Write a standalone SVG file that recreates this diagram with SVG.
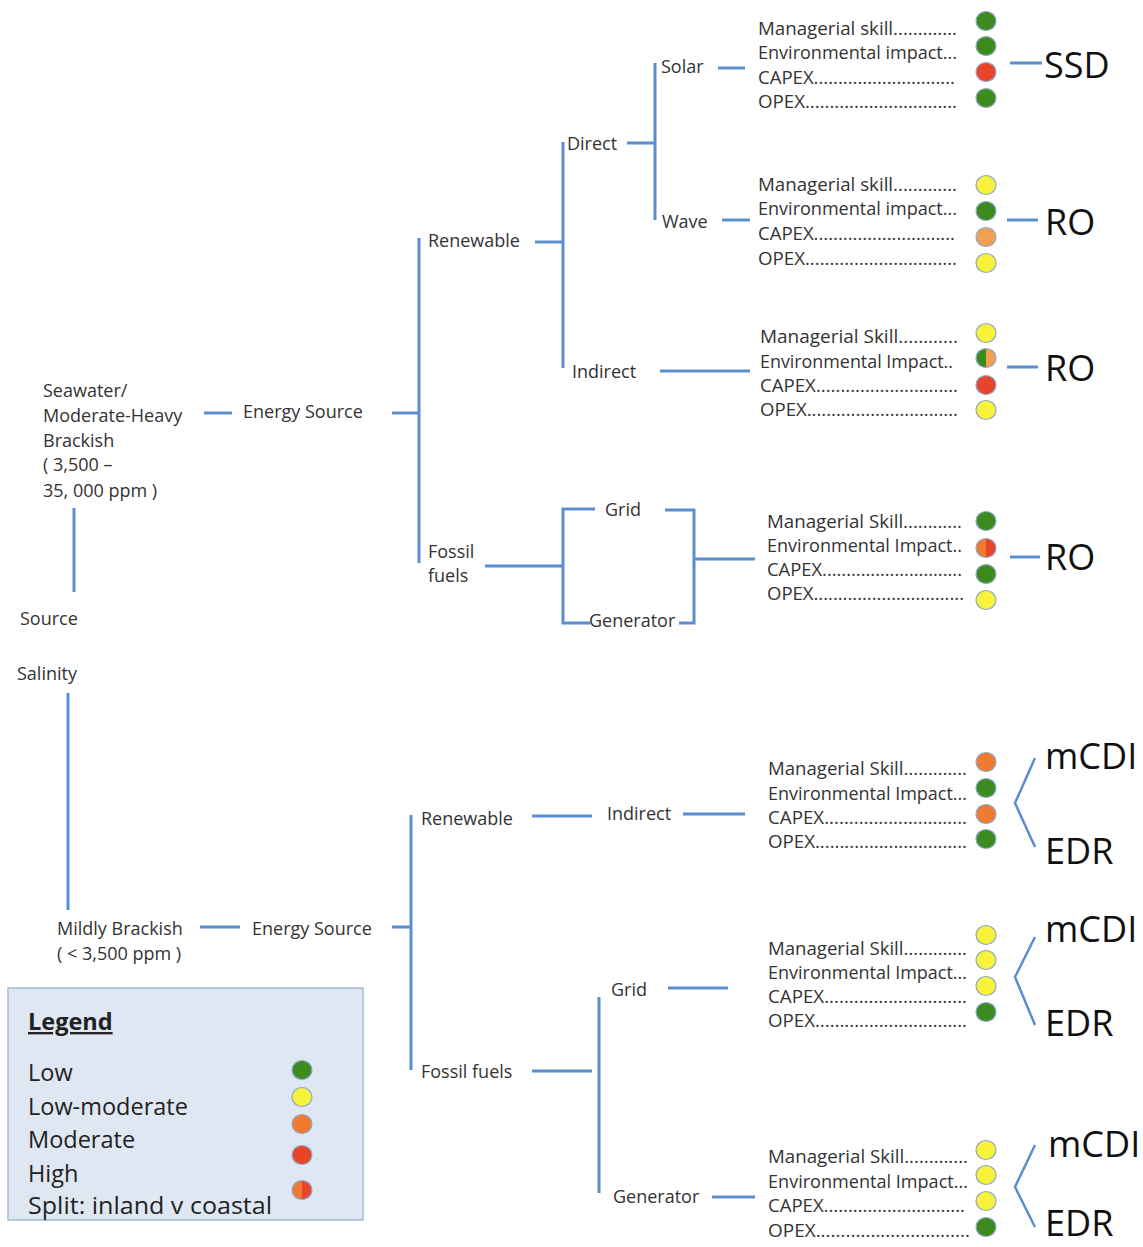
<svg xmlns="http://www.w3.org/2000/svg" width="1143" height="1247" viewBox="0 0 1143 1247">
<defs>
<style>
.t{font-family:"Open Sans","Noto Sans","Liberation Sans",sans-serif;font-size:18px;fill:#333}
.c{font-family:"Open Sans","Noto Sans","Liberation Sans",sans-serif;font-size:17.5px;fill:#333}
.big{font-family:"Open Sans","Noto Sans","Liberation Sans",sans-serif;font-size:36px;fill:#111}
.lg{font-family:"Open Sans","Noto Sans","Liberation Sans",sans-serif;font-size:23.5px;fill:#222}
.ln{stroke:#5b8ed0;stroke-width:3;fill:none}
.dot{stroke:#8ea9c9;stroke-width:1.2}
.G{fill:#3d8b1e}.Y{fill:#f8f23a}.O{fill:#f07a30}.LO{fill:#f0a050}.R{fill:#e8442a}
</style>
<g id="dg"><ellipse cx="0" cy="0" rx="10" ry="9.5" class="G dot"/></g>
<g id="dy"><ellipse cx="0" cy="0" rx="10" ry="9.5" class="Y dot"/></g>
<g id="do"><ellipse cx="0" cy="0" rx="10" ry="9.5" class="O dot"/></g>
<g id="dlo"><ellipse cx="0" cy="0" rx="10" ry="9.5" class="LO dot"/></g>
<g id="dr"><ellipse cx="0" cy="0" rx="10" ry="9.5" class="R dot"/></g>
<g id="dsgl"><path d="M0,-9.5 A10,9.5 0 0 0 0,9.5 Z" class="G"/><path d="M0,-9.5 A10,9.5 0 0 1 0,9.5 Z" class="LO"/><ellipse cx="0" cy="0" rx="10" ry="9.5" fill="none" class="dot"/></g>
<g id="dsor"><path d="M0,-9.5 A10,9.5 0 0 0 0,9.5 Z" class="O"/><path d="M0,-9.5 A10,9.5 0 0 1 0,9.5 Z" class="R"/><ellipse cx="0" cy="0" rx="10" ry="9.5" fill="none" class="dot"/></g>
</defs>
<rect width="1143" height="1247" fill="#fff"/>

<g id="connectors" class="ln">
<line x1="204" y1="413" x2="232" y2="413"/>
<line x1="392" y1="413" x2="419" y2="413"/>
<line x1="419" y1="238" x2="419" y2="563"/>
<line x1="535" y1="242" x2="563" y2="242"/>
<line x1="563" y1="142" x2="563" y2="368"/>
<line x1="627" y1="143" x2="655" y2="143"/>
<line x1="655" y1="63" x2="655" y2="220"/>
<line x1="718" y1="68" x2="745" y2="68"/>
<line x1="722" y1="220" x2="750" y2="220"/>
<line x1="660" y1="371" x2="750" y2="371"/>
<line x1="485" y1="566" x2="563" y2="566"/>
<polyline points="595,509 563,509 563,623 590,623"/>
<polyline points="665,510 694,510 694,623 679,623"/>
<line x1="694" y1="559" x2="755" y2="559"/>
<line x1="1010" y1="63" x2="1042" y2="63"/>
<line x1="1007" y1="220" x2="1038" y2="220"/>
<line x1="1007" y1="367" x2="1038" y2="367"/>
<line x1="1010" y1="557" x2="1040" y2="557"/>
<line x1="74" y1="508" x2="74" y2="592"/>
<line x1="68" y1="693" x2="68" y2="910"/>
<line x1="200" y1="927" x2="240" y2="927"/>
<line x1="392" y1="927" x2="411" y2="927"/>
<line x1="411" y1="815" x2="411" y2="1070"/>
<line x1="532" y1="816" x2="592" y2="816"/>
<line x1="683" y1="814" x2="745" y2="814"/>
<line x1="532" y1="1071" x2="592" y2="1071"/>
<line x1="599" y1="997" x2="599" y2="1193"/>
<line x1="668" y1="988" x2="728" y2="988"/>
<line x1="712" y1="1197" x2="755" y2="1197"/>
<polyline points="1035,758 1015,803 1035,847" stroke-width="2.5"/>
<polyline points="1035,937 1015,977 1035,1025" stroke-width="2.5"/>
<polyline points="1035,1145 1015,1187 1035,1227" stroke-width="2.5"/>
</g>

<g id="n-source"><text class="t" x="20" y="625">Source</text></g>
<g id="n-salinity"><text class="t" x="17" y="680">Salinity</text></g>
<g id="n-seawater">
<text class="t" x="43" y="397">Seawater/</text>
<text class="t" x="43" y="422">Moderate-Heavy</text>
<text class="t" x="43" y="447">Brackish</text>
<text class="t" x="43" y="471">( 3,500 –</text>
<text class="t" x="43" y="497">35, 000 ppm )</text>
</g>
<g id="n-energy1"><text class="t" x="243" y="418">Energy Source</text></g>
<g id="n-renewable1"><text class="t" x="428" y="247">Renewable</text></g>
<g id="n-direct"><text class="t" x="567" y="150">Direct</text></g>
<g id="n-solar"><text class="t" x="661" y="73">Solar</text></g>
<g id="n-wave"><text class="t" x="662" y="228">Wave</text></g>
<g id="n-indirect1"><text class="t" x="572" y="378">Indirect</text></g>
<g id="n-fossil1"><text class="t" x="428" y="558">Fossil</text><text class="t" x="428" y="582">fuels</text></g>
<g id="n-grid1"><text class="t" x="605" y="516">Grid</text></g>
<g id="n-gen1"><text class="t" x="589" y="627">Generator</text></g>

<g id="n-mild">
<text class="t" x="57" y="935">Mildly Brackish</text>
<text class="t" x="57" y="960">( &lt; 3,500 ppm )</text>
</g>
<g id="n-energy2"><text class="t" x="252" y="935">Energy Source</text></g>
<g id="n-renewable2"><text class="t" x="421" y="825">Renewable</text></g>
<g id="n-indirect2"><text class="t" x="607" y="820">Indirect</text></g>
<g id="n-fossil2"><text class="t" x="421" y="1078">Fossil fuels</text></g>
<g id="n-grid2"><text class="t" x="611" y="996">Grid</text></g>
<g id="n-gen2"><text class="t" x="613" y="1203">Generator</text></g>

<g id="b1">
<text class="c" x="758" y="35" textLength="199" lengthAdjust="spacingAndGlyphs">Managerial skill.............</text>
<text class="c" x="758" y="59" textLength="199" lengthAdjust="spacingAndGlyphs">Environmental impact...</text>
<text class="c" x="758" y="84" textLength="197" lengthAdjust="spacingAndGlyphs">CAPEX.............................</text>
<text class="c" x="758" y="108" textLength="199" lengthAdjust="spacingAndGlyphs">OPEX...............................</text>
<use href="#dg" x="986" y="21"/><use href="#dg" x="986" y="46"/><use href="#dr" x="986" y="72"/><use href="#dg" x="986" y="98"/>
<text class="big" x="1044" y="78">SSD</text>
</g>
<g id="b2">
<text class="c" x="758" y="191" textLength="199" lengthAdjust="spacingAndGlyphs">Managerial skill.............</text>
<text class="c" x="758" y="215" textLength="199" lengthAdjust="spacingAndGlyphs">Environmental impact...</text>
<text class="c" x="758" y="240" textLength="197" lengthAdjust="spacingAndGlyphs">CAPEX.............................</text>
<text class="c" x="758" y="265" textLength="199" lengthAdjust="spacingAndGlyphs">OPEX...............................</text>
<use href="#dy" x="986" y="185"/><use href="#dg" x="986" y="211"/><use href="#dlo" x="986" y="237"/><use href="#dy" x="986" y="263"/>
<text class="big" x="1045" y="235">RO</text>
</g>
<g id="b3">
<text class="c" x="760" y="343" textLength="198" lengthAdjust="spacingAndGlyphs">Managerial Skill............</text>
<text class="c" x="760" y="368" textLength="193" lengthAdjust="spacingAndGlyphs">Environmental Impact..</text>
<text class="c" x="760" y="392" textLength="198" lengthAdjust="spacingAndGlyphs">CAPEX.............................</text>
<text class="c" x="760" y="416" textLength="198" lengthAdjust="spacingAndGlyphs">OPEX...............................</text>
<use href="#dy" x="986" y="333"/><use href="#dsgl" x="986" y="358"/><use href="#dr" x="986" y="385"/><use href="#dy" x="986" y="410"/>
<text class="big" x="1045" y="381">RO</text>
</g>
<g id="b4">
<text class="c" x="767" y="528" textLength="195" lengthAdjust="spacingAndGlyphs">Managerial Skill............</text>
<text class="c" x="767" y="552" textLength="195" lengthAdjust="spacingAndGlyphs">Environmental Impact..</text>
<text class="c" x="767" y="576" textLength="195" lengthAdjust="spacingAndGlyphs">CAPEX.............................</text>
<text class="c" x="767" y="600" textLength="197" lengthAdjust="spacingAndGlyphs">OPEX...............................</text>
<use href="#dg" x="986" y="521"/><use href="#dsor" x="986" y="548"/><use href="#dg" x="986" y="574"/><use href="#dy" x="986" y="600"/>
<text class="big" x="1045" y="570">RO</text>
</g>
<g id="b5">
<text class="c" x="768" y="775" textLength="199" lengthAdjust="spacingAndGlyphs">Managerial Skill.............</text>
<text class="c" x="768" y="800" textLength="199" lengthAdjust="spacingAndGlyphs">Environmental Impact...</text>
<text class="c" x="768" y="824" textLength="199" lengthAdjust="spacingAndGlyphs">CAPEX.............................</text>
<text class="c" x="768" y="848" textLength="199" lengthAdjust="spacingAndGlyphs">OPEX...............................</text>
<use href="#do" x="986" y="762"/><use href="#dg" x="986" y="788"/><use href="#do" x="986" y="814"/><use href="#dg" x="986" y="839"/>
<text class="big" x="1045" y="769">mCDI</text>
<text class="big" x="1045" y="864">EDR</text>
</g>
<g id="b6">
<text class="c" x="768" y="955" textLength="199" lengthAdjust="spacingAndGlyphs">Managerial Skill.............</text>
<text class="c" x="768" y="979" textLength="199" lengthAdjust="spacingAndGlyphs">Environmental Impact...</text>
<text class="c" x="768" y="1003" textLength="199" lengthAdjust="spacingAndGlyphs">CAPEX.............................</text>
<text class="c" x="768" y="1027" textLength="199" lengthAdjust="spacingAndGlyphs">OPEX...............................</text>
<use href="#dy" x="986" y="935"/><use href="#dy" x="986" y="960"/><use href="#dy" x="986" y="986"/><use href="#dg" x="986" y="1012"/>
<text class="big" x="1045" y="942">mCDI</text>
<text class="big" x="1045" y="1036">EDR</text>
</g>
<g id="b7">
<text class="c" x="768" y="1163" textLength="200" lengthAdjust="spacingAndGlyphs">Managerial Skill.............</text>
<text class="c" x="768" y="1188" textLength="200" lengthAdjust="spacingAndGlyphs">Environmental Impact...</text>
<text class="c" x="768" y="1212" textLength="197" lengthAdjust="spacingAndGlyphs">CAPEX.............................</text>
<text class="c" x="768" y="1237" textLength="202" lengthAdjust="spacingAndGlyphs">OPEX...............................</text>
<use href="#dy" x="986" y="1150"/><use href="#dy" x="986" y="1175"/><use href="#dy" x="986" y="1201"/><use href="#dg" x="986" y="1227"/>
<text class="big" x="1048" y="1157">mCDI</text>
<text class="big" x="1045" y="1236">EDR</text>
</g>

<g id="legend">
<rect x="8" y="988" width="355" height="232" fill="#dfe7f2" stroke="#a3bad8" stroke-width="1.5"/>
<text class="lg" x="28" y="1030" font-weight="bold" font-size="22" text-decoration="underline">Legend</text>
<text class="lg" x="28" y="1081">Low</text>
<text class="lg" x="28" y="1115">Low-moderate</text>
<text class="lg" x="28" y="1148">Moderate</text>
<text class="lg" x="28" y="1182">High</text>
<text class="lg" x="28" y="1214" textLength="244" lengthAdjust="spacingAndGlyphs">Split: inland v coastal</text>
<use href="#dg" x="302" y="1070"/><use href="#dy" x="302" y="1097"/><use href="#do" x="302" y="1124"/><use href="#dr" x="302" y="1155"/><use href="#dsor" x="302" y="1190"/>
</g>
</svg>
